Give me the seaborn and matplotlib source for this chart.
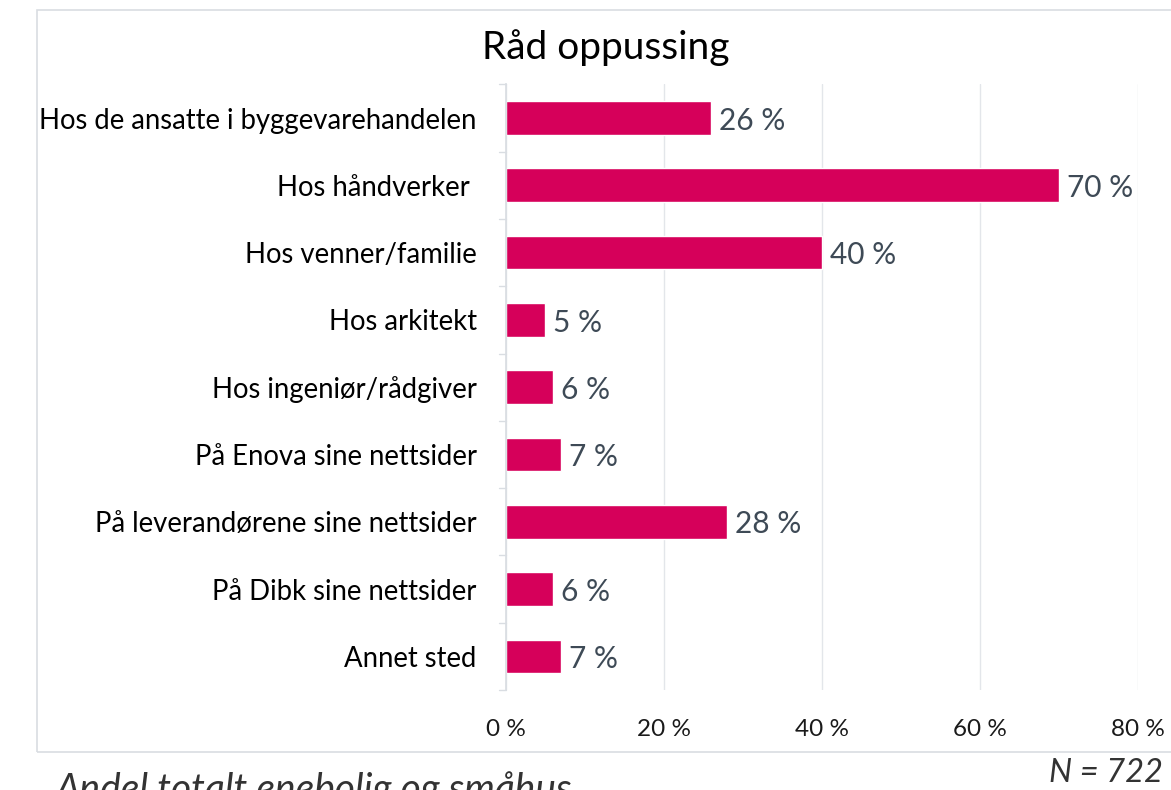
import matplotlib
matplotlib.use("Agg")
import matplotlib.pyplot as plt
import seaborn as sns
import pandas as pd
from matplotlib.patches import Rectangle

# === Data ===
categories = [
    "Hos de ansatte i byggevarehandelen",
    "Hos håndverker ",
    "Hos venner/familie",
    "Hos arkitekt",
    "Hos ingeniør/rådgiver",
    "På Enova sine nettsider",
    "På leverandørene sine nettsider",
    "På Dibk sine nettsider",
    "Annet sted",
]
values = [26, 70, 40, 5, 6, 7, 28, 6, 7]
x_ticks = [0, 20, 40, 60, 80]

df = pd.DataFrame({"Kilde": categories, "Andel": values})

sns.set_theme(style="white")
plt.rcParams['font.family'] = ['Lato', 'DejaVu Sans']

fig = plt.figure(figsize=(11.71, 7.90), dpi=100)
ax = fig.add_axes([0.432, 0.1266, 0.540, 0.7666])

sns.barplot(data=df, x="Andel", y="Kilde", orient="h", color="#D6005A",
            width=0.5, saturation=1, ax=ax, zorder=3)

ax.set_xlim(0, 80)
ax.set_ylim(len(categories) - 0.5, -0.5)
ax.set_xticks(x_ticks)
ax.set_xticklabels([f"{t} %" for t in x_ticks], fontsize=17.5, color="#1a1a1a")
ax.tick_params(axis="x", length=0, pad=21)
ax.tick_params(axis="y", length=0, pad=21, labelsize=19.8, labelcolor="black")
ax.grid(axis="x", color="#E3E6EA", lw=1, zorder=0)
ax.set_xlabel("")
ax.set_ylabel("")
for s in ["top", "right", "bottom"]:
    ax.spines[s].set_visible(False)
ax.spines["left"].set_color("#D9DDE2")
ax.spines["left"].set_zorder(4)

# small ticks between categories on the y axis
for i in range(len(categories) + 1):
    ax.plot([-0.9, 0], [i - 0.5, i - 0.5], color="#D9DDE2", lw=1,
            clip_on=False, zorder=4)

# value labels
for i, v in enumerate(values):
    ax.text(v + 1.0, i + 0.04, f"{v} %", va="center", ha="left", fontsize=21.5,
            color="#3E4A56")

# title and chart frame
fig.text(0.517, 0.940, "Råd oppussing", ha="center", va="center",
         fontsize=28, color="black")
fig.patches.append(Rectangle((37 / 1171, 1 - 752 / 790), (1200 - 37) / 1171,
                             (752 - 10) / 790, transform=fig.transFigure,
                             fill=False, edgecolor="#D9DDE2", lw=1.2))

fig.text(55 / 1171, 0.0, "Andel totalt enebolig og småhus",
         ha="left", va="center", fontsize=28, style="italic", color="#333333")
fig.text(1163 / 1171, 1 - 773 / 790, "N = 722", ha="right", va="center",
         fontsize=23.5, style="italic", color="#333333")

fig.savefig("out.png", dpi=100)
